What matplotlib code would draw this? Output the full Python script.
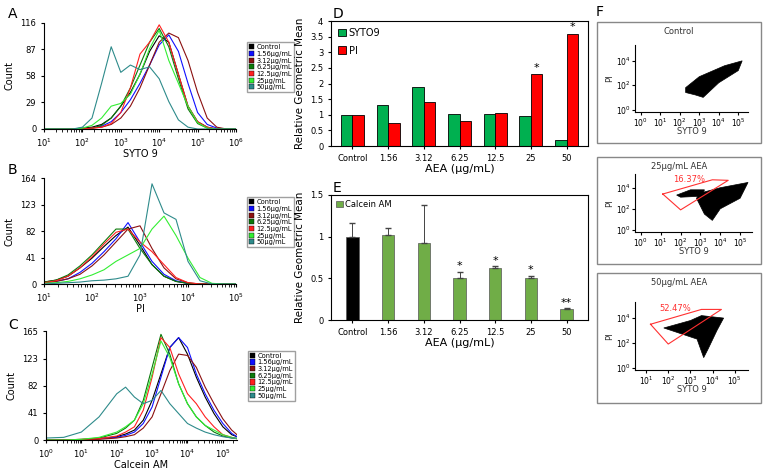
import numpy as np
import matplotlib
matplotlib.use("Agg")
import matplotlib.pyplot as plt
from matplotlib.patches import Patch, Rectangle

W, H = 767, 469

# ---- histogram data (y read at log10 positions) ----
series_names = ["Control", "1.56\u03bcg/mL", "3.12\u03bcg/mL", "6.25\u03bcg/mL",
                "12.5\u03bcg/mL", "25\u03bcg/mL", "50\u03bcg/mL"]
series_colors = ["#000000", "#1010ff", "#8b1010", "#0a7a0a", "#ff2020", "#33ee33", "#2e8b8b"]

a_logx = [1, 1.25, 1.5, 1.75, 2, 2.25, 2.5, 2.75, 3, 3.25, 3.5, 3.75, 4, 4.25, 4.5, 4.75, 5, 5.25, 5.5, 5.75, 6]
a_counts = [
    [0, 0, 0, 0, 1, 2, 5, 12, 25, 40, 60, 85, 102, 95, 60, 25, 8, 2, 0, 0, 0],
    [0, 0, 0, 0, 0, 1, 3, 8, 18, 32, 50, 70, 92, 103, 85, 50, 18, 5, 1, 0, 0],
    [0, 0, 0, 0, 0, 1, 2, 5, 12, 25, 45, 70, 95, 105, 100, 75, 40, 12, 2, 0, 0],
    [0, 0, 0, 0, 0, 1, 4, 12, 25, 45, 70, 95, 110, 90, 55, 22, 6, 1, 0, 0, 0],
    [0, 0, 0, 0, 0, 1, 2, 6, 18, 45, 82, 95, 114, 95, 60, 25, 8, 2, 0, 0, 0],
    [0, 0, 0, 0, 1, 4, 12, 25, 28, 38, 60, 88, 108, 75, 50, 25, 7, 1, 0, 0, 0],
    [0, 0, 0, 0, 2, 12, 50, 90, 62, 70, 65, 68, 55, 30, 10, 2, 0, 0, 0, 0, 0],
]

b_logx = [1, 1.25, 1.5, 1.75, 2, 2.25, 2.5, 2.75, 3, 3.25, 3.5, 3.75, 4, 4.25, 4.5, 4.75, 5]
b_counts = [
    [3, 6, 12, 25, 40, 58, 75, 88, 60, 30, 12, 4, 1, 0, 0, 0, 0],
    [2, 4, 8, 18, 32, 50, 70, 95, 65, 35, 15, 5, 1, 0, 0, 0, 0],
    [2, 4, 8, 15, 28, 45, 65, 85, 90, 55, 25, 8, 2, 0, 0, 0, 0],
    [3, 6, 14, 28, 45, 65, 85, 85, 55, 30, 12, 4, 1, 0, 0, 0, 0],
    [2, 5, 12, 25, 42, 62, 80, 85, 65, 50, 30, 10, 2, 0, 0, 0, 0],
    [1, 2, 4, 8, 14, 22, 35, 45, 55, 85, 105, 75, 40, 10, 1, 0, 0],
    [0, 1, 2, 3, 5, 6, 8, 12, 45, 155, 110, 100, 35, 5, 0, 0, 0],
]

c_logx = [0, 0.5, 1, 1.5, 2, 2.25, 2.5, 2.75, 3, 3.25, 3.5, 3.75, 4, 4.25, 4.5, 4.75, 5, 5.25, 5.4]
c_counts = [
    [0, 0, 0, 2, 5, 9, 15, 30, 60, 100, 140, 155, 130, 95, 65, 40, 20, 8, 5],
    [0, 0, 0, 2, 4, 7, 12, 25, 50, 95, 140, 155, 140, 100, 70, 45, 25, 10, 5],
    [0, 0, 0, 1, 3, 5, 8, 18, 35, 70, 105, 130, 128, 110, 80, 55, 32, 15, 8],
    [0, 0, 1, 3, 10, 18, 30, 60, 110, 160, 130, 85, 55, 35, 22, 12, 6, 3, 2],
    [0, 0, 1, 2, 6, 12, 20, 45, 95, 155, 140, 100, 70, 55, 35, 20, 8, 4, 2],
    [0, 0, 1, 4, 12, 20, 30, 55, 100, 150, 125, 85, 55, 35, 22, 15, 8, 4, 2],
    [3, 4, 12, 35, 70, 80, 65, 55, 60, 75, 55, 40, 25, 18, 12, 8, 5, 3, 3],
]

# ---- bar data ----
conc_labels = ["Control", "1.56", "3.12", "6.25", "12.5", "25", "50"]
syto9_mean = [1.0, 1.3, 1.9, 1.02, 1.02, 0.95, 0.2]
pi_mean = [1.0, 0.73, 1.4, 0.8, 1.05, 2.3, 3.6]
pi_marks = ["", "", "", "", "", "*", "*"]
calcein_mean = [1.0, 1.02, 0.92, 0.51, 0.63, 0.5, 0.13]
calcein_err = [0.16, 0.09, 0.46, 0.07, 0.015, 0.03, 0.01]
calcein_marks = ["", "", "", "*", "*", "*", "**"]

# ---- flow cytometry clouds (log10 SYTO9, log10 PI outlines) ----
f_titles = ["Control", "25\u03bcg/mL AEA", "50\u03bcg/mL AEA"]
f_clouds = [
    [[(2.3, 1.8), (3.0, 2.7), (4.3, 3.6), (5.2, 4.0), (5.0, 3.2), (4.0, 2.2), (3.2, 1.0), (2.8, 1.2), (2.3, 1.4)]],
    [[(3.0, 3.5), (4.0, 4.0), (5.4, 4.5), (5.0, 3.0), (4.0, 2.0), (3.6, 0.9), (3.2, 1.5), (2.8, 3.0)],
     [(1.8, 3.3), (2.5, 3.8), (3.2, 3.8), (3.1, 3.2), (2.0, 3.1)]],
    [[(1.8, 3.2), (3.0, 3.8), (3.5, 4.2), (4.5, 4.0), (4.2, 3.0), (3.8, 1.5), (3.6, 0.8), (3.3, 2.3), (2.3, 2.9)]],
]
f_gates = [None,
           [(1.1, 3.4), (3.6, 4.75), (4.4, 4.7), (2.0, 1.9), (1.1, 3.4)],
           [(1.2, 3.5), (3.5, 4.7), (4.4, 4.7), (2.0, 1.9), (1.2, 3.5)]]
f_pct = [None, "16.37%", "52.47%"]
f_xlim = [(-0.3, 5.5), (-0.3, 5.6), (0.5, 5.6)]


def px(x0, y0, x1, y1):
    return [x0 / W, 1 - y1 / H, (x1 - x0) / W, (y1 - y0) / H]


fig = plt.figure(figsize=(W / 100, H / 100), dpi=100)
fig.patch.set_facecolor("white")
plt.rcParams["font.size"] = 7


def panel_letter(x, y, letter):
    # y is the top of the glyph in pixels
    fig.text(x / W, 1 - y / H, letter, fontsize=10, va="top", zorder=10)


def histo(rect, logx, counts, xmax_exp, ymax, yticks, xlabel):
    ax = fig.add_axes(px(*rect))
    xs = 10.0 ** np.array(logx)
    for ys, col in zip(counts, series_colors):
        ax.plot(xs, ys, color=col, lw=0.8)
    ax.set_xscale("log")
    ax.set_xlim(10.0 ** logx[0], 10.0 ** xmax_exp)
    ax.set_ylim(0, ymax)
    ax.set_yticks(yticks)
    ax.set_xlabel(xlabel, fontsize=7, labelpad=0)
    ax.set_ylabel("Count", fontsize=7)
    ax.tick_params(labelsize=6, length=2)
    for s in ["top", "right"]:
        ax.spines[s].set_visible(False)
    handles = [Patch(facecolor=c, edgecolor="black", lw=0.3) for c in series_colors]
    ax.legend(handles, series_names, loc="upper left", bbox_to_anchor=(1.04, 0.85),
              fontsize=4.8, handlelength=0.8, handleheight=0.8, handletextpad=0.3,
              labelspacing=0.1, borderpad=0.3, frameon=True, fancybox=False,
              edgecolor="#888888")
    return ax


histo((44, 23, 236, 129), a_logx, a_counts, 6, 116, [0, 29, 58, 87, 116], "SYTO 9")
histo((44, 178, 236, 284), b_logx, b_counts, 5, 164, [0, 41, 82, 123, 164], "PI")
histo((46, 331, 237, 440), c_logx, c_counts, 5.4, 165, [0, 41, 82, 123, 165], "Calcein AM")
panel_letter(8, 7, "A")
panel_letter(8, 163, "B")
panel_letter(8, 318, "C")

# ---- D ----
x = np.arange(len(conc_labels))
axd = fig.add_axes(px(331, 21, 588, 146))
w = 0.32
axd.bar(x - w / 2, syto9_mean, w, color="#00b050", edgecolor="black", lw=0.6, label="SYTO9")
axd.bar(x + w / 2, pi_mean, w, color="#ff0000", edgecolor="black", lw=0.6, label="PI")
for xi, v, m in zip(x, pi_mean, pi_marks):
    if m:
        axd.text(xi + w / 2, v + 0.1, m, ha="center", fontsize=8)
axd.set_ylim(0, 4)
axd.set_yticks(np.arange(0, 4.01, 0.5))
axd.set_yticklabels(["0", "0.5", "1", "1.5", "2", "2.5", "3", "3.5", "4"])
axd.set_xticks(x)
axd.set_xticklabels(conc_labels)
axd.set_xlim(-0.6, 6.6)
axd.set_xlabel("AEA (\u03bcg/mL)", fontsize=8, labelpad=1)
axd.set_ylabel("Relative Geometric Mean", fontsize=7.5)
axd.tick_params(labelsize=6, length=2)
axd.legend(loc="upper left", fontsize=7, handlelength=0.8, handleheight=0.8,
           handletextpad=0.3, labelspacing=0.8, frameon=False, borderaxespad=0.3)
panel_letter(333, 7, "D")

# ---- E ----
axe = fig.add_axes(px(331, 195, 588, 320))
colors_e = ["black"] + ["#70ad47"] * (len(conc_labels) - 1)
axe.bar(x, calcein_mean, 0.35, color=colors_e, edgecolor="#555555", lw=0.5,
        yerr=[[0] * len(x), calcein_err], error_kw=dict(lw=0.7, capsize=2, ecolor="#444444"))
for xi, v, e, m in zip(x, calcein_mean, calcein_err, calcein_marks):
    if m:
        axe.text(xi, v + e + 0.03, m, ha="center", fontsize=8)
axe.set_ylim(0, 1.5)
axe.set_yticks([0, 0.5, 1, 1.5])
axe.set_yticklabels(["0", "0.5", "1", "1.5"])
axe.set_xticks(x)
axe.set_xticklabels(conc_labels)
axe.set_xlim(-0.6, 6.6)
axe.set_xlabel("AEA (\u03bcg/mL)", fontsize=8, labelpad=1)
axe.set_ylabel("Relative Geometric Mean", fontsize=7.5)
axe.tick_params(labelsize=6, length=2)
axe.legend([Patch(facecolor="#70ad47", edgecolor="#555555", lw=0.5)], ["Calcein AM"],
           loc="upper left", fontsize=6, handlelength=0.8, handleheight=0.8,
           handletextpad=0.3, frameon=False, borderaxespad=0.2)
panel_letter(333, 181, "E")

# ---- F ----
panel_letter(596, 5, "F")
boxes = [(597, 22, 761, 143), (597, 157, 761, 264), (597, 273, 761, 403)]
inner = [(635, 45, 748, 112), (635, 174, 752, 232), (635, 302, 748, 370)]
for i in range(3):
    bx = boxes[i]
    fig.patches.append(Rectangle((bx[0] / W, 1 - bx[3] / H), (bx[2] - bx[0]) / W,
                                 (bx[3] - bx[1]) / H, transform=fig.transFigure,
                                 fill=False, edgecolor="#888888", lw=1))
    fig.text((bx[0] + bx[2]) / 2 / W, 1 - (bx[1] + 12) / H, f_titles[i],
             ha="center", fontsize=6, color="#333333")
    ax = fig.add_axes(px(*inner[i]))
    for cloud in f_clouds[i]:
        cx, cy = zip(*cloud)
        ax.fill(10.0 ** np.array(cx), 10.0 ** np.array(cy), color="black", lw=0.5)
    if f_gates[i]:
        gx, gy = zip(*f_gates[i])
        ax.plot(10.0 ** np.array(gx), 10.0 ** np.array(gy), color="#ff3030", lw=0.8)
        ax.text(10.0 ** 1.6, 10.0 ** 4.55, f_pct[i], color="#ff3030", fontsize=6)
    ax.set_xscale("log")
    ax.set_yscale("log")
    ax.set_xlim(10.0 ** f_xlim[i][0], 10.0 ** f_xlim[i][1])
    ax.set_ylim(10.0 ** -0.2, 10.0 ** 5.3)
    ax.set_xticks([10.0 ** k for k in range(int(np.ceil(f_xlim[i][0])), 6)])
    ax.set_yticks([1, 100, 10000])
    ax.minorticks_off()
    ax.tick_params(labelsize=5.5, length=2, pad=1)
    ax.set_xlabel("SYTO 9", fontsize=6, labelpad=-1, color="#333333")
    ax.set_ylabel("PI", fontsize=6, labelpad=1, color="#333333")
    for s in ["top", "right"]:
        ax.spines[s].set_visible(False)

fig.savefig("out.png", dpi=100)
